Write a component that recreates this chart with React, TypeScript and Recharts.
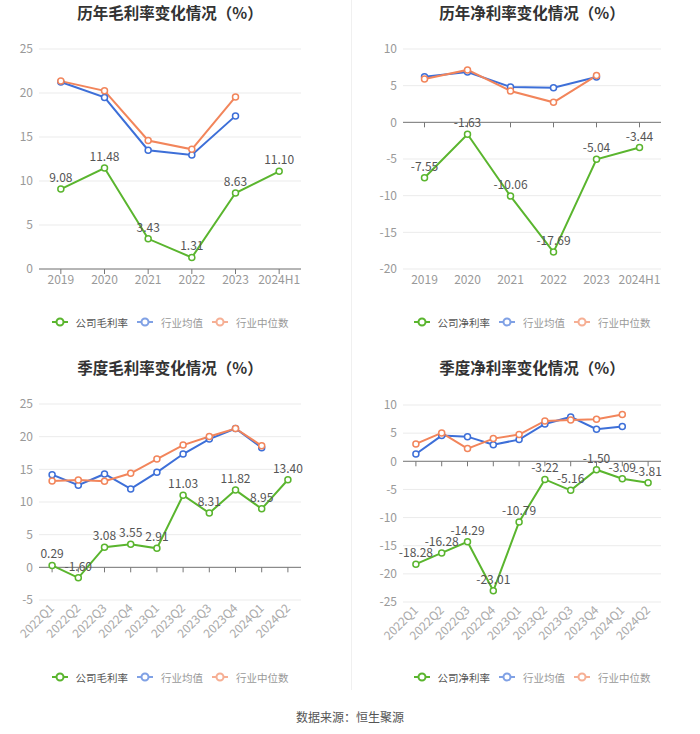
import React from 'react';
import { LineChart, Line, XAxis, YAxis, CartesianGrid, ReferenceLine, ReferenceDot, LabelList } from 'recharts';

const FONT = '"Noto Sans CJK SC", "Noto Sans", sans-serif';
const GREEN = '#5ab52e';
const BLUE = '#3d6fd8';
const ORANGE = '#f2855b';
const AXIS = '#777';

// 历年
const annualYears = ['2019', '2020', '2021', '2022', '2023', '2024H1'];
const annualGrossCompany = [9.08, 11.48, 3.43, 1.31, 8.63, 11.1];
const annualGrossAvg = [21.25, 19.5, 13.5, 12.95, 17.4, null];
const annualGrossMedian = [21.35, 20.25, 14.6, 13.6, 19.55, null];
const annualGrossTicks = [0, 5, 10, 15, 20, 25];

const annualNetCompany = [-7.55, -1.63, -10.06, -17.69, -5.04, -3.44];
const annualNetAvg = [6.23, 6.87, 4.82, 4.73, 6.19, null];
const annualNetMedian = [5.9, 7.15, 4.28, 2.73, 6.37, null];
const annualNetTicks = [-20, -15, -10, -5, 0, 5, 10];

// 季度
const quarters = ['2022Q1', '2022Q2', '2022Q3', '2022Q4', '2023Q1', '2023Q2', '2023Q3', '2023Q4', '2024Q1', '2024Q2'];
const quarterGrossCompany = [0.29, -1.6, 3.08, 3.55, 2.91, 11.03, 8.31, 11.82, 8.95, 13.4];
const quarterGrossAvg = [14.19, 12.56, 14.29, 12.0, 14.54, 17.34, 19.63, 21.25, 18.3, null];
const quarterGrossMedian = [13.22, 13.37, 13.17, 14.39, 16.58, 18.71, 20.03, 21.25, 18.6, null];
const quarterGrossTicks = [-5, 0, 5, 10, 15, 20, 25];

const quarterNetCompany = [-18.28, -16.28, -14.29, -23.01, -10.79, -3.22, -5.16, -1.5, -3.09, -3.81];
const quarterNetAvg = [1.3, 4.56, 4.38, 2.96, 3.85, 6.64, 7.88, 5.69, 6.16, null];
const quarterNetMedian = [3.08, 5.04, 2.25, 4.03, 4.74, 7.17, 7.35, 7.47, 8.3, null];
const quarterNetTicks = [-25, -20, -15, -10, -5, 0, 5, 10];

const RotatedTick = (props: any) => {
  const { x, y, payload } = props;
  return (
    <g transform={`translate(${x},${y})`}>
      <text x={0} y={0} dy="0.35em" textAnchor="end" fill="#aaa" fontSize={12} transform="rotate(-45)">
        {payload.value}
      </text>
    </g>
  );
};

const LegendIcon = ({ color, faded }: { color: string; faded?: boolean }) => (
  <svg width={16} height={10} style={{ opacity: faded ? 0.65 : 1, marginRight: 8 }}>
    <line x1={0} y1={5} x2={16} y2={5} stroke={color} strokeWidth={2} />
    <circle cx={8} cy={5} r={3.5} fill="#fff" stroke={color} strokeWidth={2} />
  </svg>
);

interface PanelProps {
  left: number;
  top: number;
  title: string;
  companyName: string;
  categories: string[];
  company: number[];
  avg: (number | null)[];
  median: (number | null)[];
  ticks: number[];
  yWidth: number;
  marginRight: number;
  marginTop: number;
  xHeight: number;
  rotate?: boolean;
  titleTop: number;
  legendTop: number;
}

const Panel: React.FC<PanelProps> = (p) => {
  const data = p.categories.map((c, i) => ({ name: c, company: p.company[i], avg: p.avg[i], median: p.median[i] }));
  const center = p.yWidth + (350 - p.yWidth - p.marginRight) / 2;
  const domain = [p.ticks[0], p.ticks[p.ticks.length - 1]];
  return (
    <div style={{ position: 'absolute', left: p.left, top: p.top, width: 350, height: 350 }}>
      <div
        style={{
          position: 'absolute', top: p.titleTop, left: center - 150, width: 300, textAlign: 'center',
          fontSize: 15.5, fontWeight: 'bold', color: '#333', lineHeight: '20px',
        }}
      >
        {p.title}
      </div>
      <div style={{ position: 'absolute', left: 0, top: 0 }}>
        <LineChart
          width={350}
          height={300}
          data={data}
          margin={{ top: p.marginTop, right: p.marginRight, left: 0, bottom: 0 }}
          style={{ fontFamily: FONT }}
        >
          <CartesianGrid vertical={false} stroke="#ebebeb" />
          <XAxis
            dataKey="name"
            scale="band"
            axisLine={false}
            tickLine={false}
            tickSize={0}
            tickMargin={p.rotate ? 6 : 6}
            height={p.xHeight}
            interval={0}
            tick={p.rotate ? <RotatedTick /> : { fill: '#999', fontSize: 12 }}
          />
          <YAxis
            type="number"
            domain={domain}
            ticks={p.ticks}
            interval={0}
            width={p.yWidth}
            axisLine={false}
            tickLine={false}
            tickSize={0}
            tickMargin={6}
            tick={{ fill: '#999', fontSize: 12 }}
          />
          <ReferenceLine y={0} stroke={AXIS} strokeWidth={1} />
          {p.categories.map((c) => (
            <ReferenceDot
              key={c}
              x={c}
              y={0}
              r={0}
              shape={(s: any) => <line x1={s.cx} x2={s.cx} y1={s.cy} y2={s.cy + 5} stroke={AXIS} strokeWidth={1} />}
            />
          ))}
          <Line
            type="linear"
            dataKey="avg"
            stroke={BLUE}
            strokeWidth={2}
            dot={{ r: 3, fill: '#fff', stroke: BLUE, strokeWidth: 1.5 }}
            activeDot={false}
            isAnimationActive={false}
          />
          <Line
            type="linear"
            dataKey="median"
            stroke={ORANGE}
            strokeWidth={2}
            dot={{ r: 3, fill: '#fff', stroke: ORANGE, strokeWidth: 1.5 }}
            activeDot={false}
            isAnimationActive={false}
          />
          <Line
            type="linear"
            dataKey="company"
            stroke={GREEN}
            strokeWidth={2}
            dot={{ r: 3, fill: '#fff', stroke: GREEN, strokeWidth: 1.5 }}
            activeDot={false}
            isAnimationActive={false}
          >
            <LabelList
              dataKey="company"
              position="top"
              offset={7}
              fill="#555"
              fontSize={12}
              formatter={(v: any) => Number(v).toFixed(2)}
            />
          </Line>
        </LineChart>
      </div>
      <div
        style={{
          position: 'absolute', top: p.legendTop, left: center - 150, width: 300, height: 20,
          display: 'flex', justifyContent: 'center', alignItems: 'center', fontSize: 10.5,
        }}
      >
        <LegendIcon color={GREEN} />
        <span style={{ color: '#555', marginRight: 9 }}>{p.companyName}</span>
        <LegendIcon color={BLUE} faded />
        <span style={{ color: '#999', marginRight: 9 }}>行业均值</span>
        <LegendIcon color={ORANGE} faded />
        <span style={{ color: '#999' }}>行业中位数</span>
      </div>
    </div>
  );
};

export default function App() {
  return (
    <div style={{ position: 'relative', width: 700, height: 734, background: '#fff', fontFamily: FONT }}>
      <style>{'body{margin:0}'}</style>
      <div style={{ position: 'absolute', left: 351, top: 0, width: 1, height: 690, background: '#f0f0f0' }} />
      <Panel
        left={0} top={0} title="历年毛利率变化情况（%）" companyName="公司毛利率"
        categories={annualYears} company={annualGrossCompany} avg={annualGrossAvg} median={annualGrossMedian}
        ticks={annualGrossTicks} yWidth={39} marginRight={49} marginTop={49} xHeight={31}
        titleTop={2} legendTop={312}
      />
      <Panel
        left={350} top={0} title="历年净利率变化情况（%）" companyName="公司净利率"
        categories={annualYears} company={annualNetCompany} avg={annualNetAvg} median={annualNetMedian}
        ticks={annualNetTicks} yWidth={53} marginRight={39} marginTop={49} xHeight={31}
        titleTop={2} legendTop={312}
      />
      <Panel
        left={0} top={350} title="季度毛利率变化情况（%）" companyName="公司毛利率"
        categories={quarters} company={quarterGrossCompany} avg={quarterGrossAvg} median={quarterGrossMedian}
        ticks={quarterGrossTicks} yWidth={39} marginRight={49} marginTop={54} xHeight={50} rotate
        titleTop={7} legendTop={317}
      />
      <Panel
        left={350} top={350} title="季度净利率变化情况（%）" companyName="公司净利率"
        categories={quarters} company={quarterNetCompany} avg={quarterNetAvg} median={quarterNetMedian}
        ticks={quarterNetTicks} yWidth={53} marginRight={39} marginTop={55} xHeight={48} rotate
        titleTop={7} legendTop={317}
      />
      <div
        style={{
          position: 'absolute', top: 709, left: 0, width: 700, textAlign: 'center',
          fontSize: 12, color: '#555', lineHeight: '16px',
        }}
      >
        数据来源：恒生聚源
      </div>
    </div>
  );
}
